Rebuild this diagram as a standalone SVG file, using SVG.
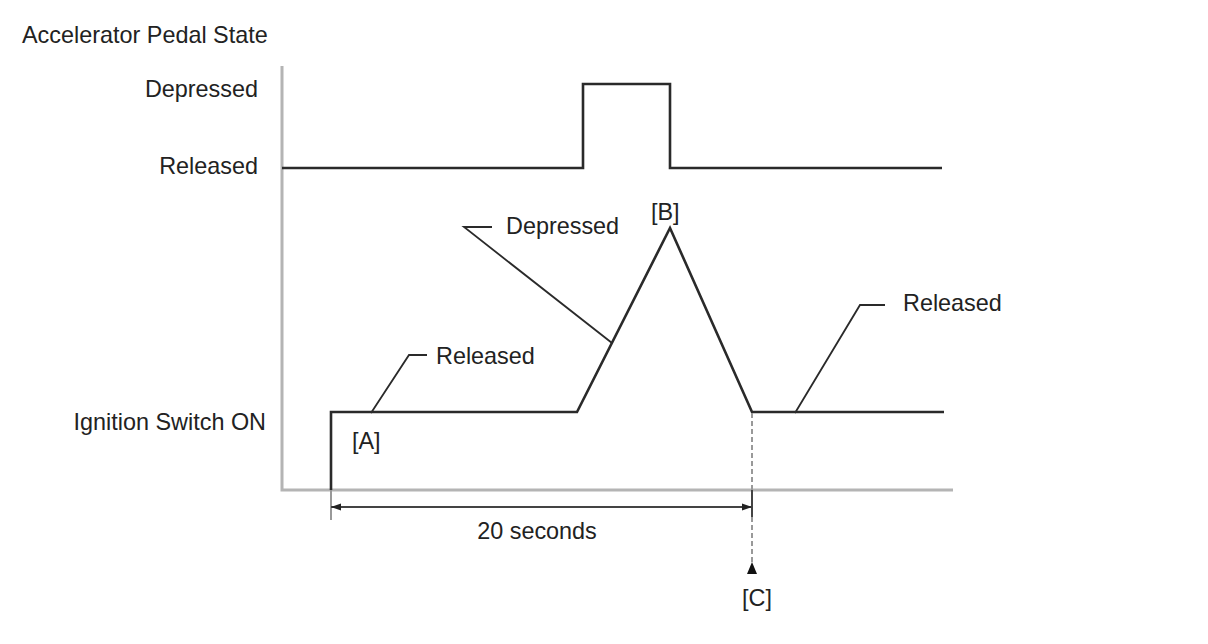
<svg xmlns="http://www.w3.org/2000/svg" width="1208" height="644" viewBox="0 0 1208 644">
<defs>
<style>
.t{font-family:"Liberation Sans",Arial,sans-serif;font-size:23.4px;fill:#222}
.axis{stroke:#b4b4b4;stroke-width:3;fill:none}
.sig{stroke:#2a2a2a;stroke-width:2.6;fill:none;stroke-linejoin:miter}
.lead{stroke:#2a2a2a;stroke-width:1.8;fill:none}
.dim{stroke:#444;stroke-width:2;fill:none}
.ext{stroke:#999;stroke-width:2;fill:none}
</style>
<marker id="ah" viewBox="0 0 10 10" refX="10" refY="5" markerWidth="10" markerHeight="10" markerUnits="userSpaceOnUse" orient="auto-start-reverse">
<path d="M0,1.5 L10,5 L0,8.5 Z" fill="#222"/>
</marker>
</defs>
<rect width="1208" height="644" fill="#fff"/>
<g id="axes">
<path class="axis" d="M282,66 V490 H953"/>
</g>
<g id="labels">
<text class="t" x="22" y="43">Accelerator Pedal State</text>
<text class="t" x="258" y="97" text-anchor="end">Depressed</text>
<text class="t" x="258" y="174" text-anchor="end">Released</text>
<text class="t" x="266" y="430" text-anchor="end">Ignition Switch ON</text>
</g>
<g id="pedal-signal">
<path class="sig" d="M282,168 H583 V84 H670 V168 H942"/>
</g>
<g id="ignition-signal">
<path class="sig" d="M331,490 V412 H577 L670,228 L752,412 H944"/>
</g>
<g id="marker-A"><text class="t" x="352" y="449">[A]</text></g>
<g id="marker-B"><text class="t" x="651" y="220">[B]</text></g>
<g id="marker-C"><text class="t" x="742" y="606">[C]</text></g>
<g id="callout-released-1">
<path class="lead" d="M371,413 L409,355 H427"/>
<text class="t" x="436" y="364">Released</text>
</g>
<g id="callout-depressed">
<path class="lead" d="M612,343 L464,227 H492"/>
<text class="t" x="506" y="234">Depressed</text>
</g>
<g id="callout-released-2">
<path class="lead" d="M795,413 L860,305 H885"/>
<text class="t" x="903" y="311">Released</text>
</g>
<g id="connectors">
<path class="ext" d="M331,490 V520"/>
<path class="ext" d="M752,413 V490" stroke-dasharray="5,3"/>
<path class="dim" d="M752,490 V517"/>
<path class="ext" d="M752,517 V566" stroke-dasharray="5,3"/>
<path d="M752,562 L757,574 L747,574 Z" fill="#111"/>
<path class="dim" d="M331,507 H752" marker-start="url(#ah)" marker-end="url(#ah)"/>
<text class="t" x="537" y="539" text-anchor="middle">20 seconds</text>
</g>
</svg>
